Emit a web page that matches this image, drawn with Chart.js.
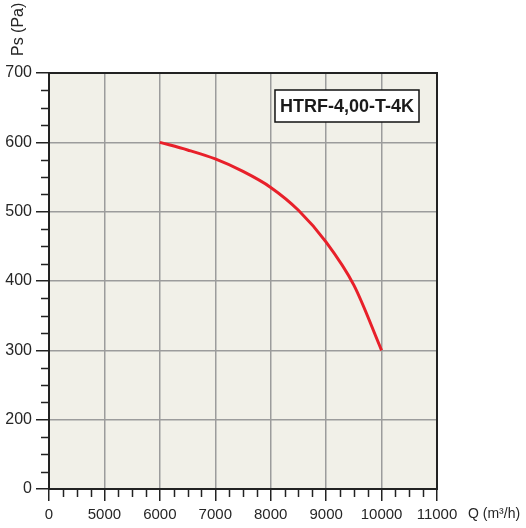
<!DOCTYPE html>
<html><head><meta charset="utf-8">
<script src="https://cdn.jsdelivr.net/npm/chart.js@4/dist/chart.umd.min.js"></script>
<style>html,body{margin:0;padding:0;background:#fff}#wrap{width:526px;height:528px}</style>
</head><body><div id="wrap"><canvas id="c" width="526" height="528"></canvas></div>
<script>
const flowValues = [6000, 6500, 7000, 7500, 8000, 8500, 9000, 9500, 10000];
const pressureValues = [600, 589, 576, 558, 535, 502, 456, 394, 300];
const xRange = [4000, 11000];
const yRange = [100, 700];
const xMajorStep = 1000, xMinorStep = 250;
const yMajorStep = 100, yMinorStep = 25;
const modelLabel = 'HTRF-4,00-T-4K';
const xTitle = 'Q (m³/h)';
const yTitle = 'Ps (Pa)';

const FONT = "'Liberation Sans', Arial, Helvetica, sans-serif";
const GRID = '#9c9c9c';
const AXIS = '#222';
const TEXT = '#262626';

const points = flowValues.map((q, i) => ({ x: q, y: pressureValues[i] }));

const decor = {
  id: 'decor',
  beforeDraw(chart) {
    const { ctx, chartArea: a } = chart;
    ctx.save();
    ctx.fillStyle = '#f1f0e8';
    ctx.fillRect(a.left, a.top, a.right - a.left, a.bottom - a.top);
    ctx.restore();
  },
  afterDraw(chart) {
    const { ctx, chartArea: a } = chart;
    const xs = chart.scales.x, ys = chart.scales.y;
    ctx.save();
    // minor ticks
    ctx.strokeStyle = AXIS; ctx.lineWidth = 1.5;
    ctx.beginPath();
    for (let v = xRange[0]; v <= xRange[1]; v += xMinorStep) {
      if ((v - xRange[0]) % xMajorStep === 0) continue;
      const px = Math.round(xs.getPixelForValue(v)) + 0.5;
      ctx.moveTo(px, a.bottom); ctx.lineTo(px, a.bottom + 8);
    }
    for (let v = yRange[0]; v <= yRange[1]; v += yMinorStep) {
      if ((v - yRange[0]) % yMajorStep === 0) continue;
      const py = Math.round(ys.getPixelForValue(v)) + 0.5;
      ctx.moveTo(a.left, py); ctx.lineTo(a.left - 8, py);
    }
    ctx.stroke();
    // frame
    ctx.strokeStyle = AXIS; ctx.lineWidth = 2;
    ctx.strokeRect(a.left, a.top, a.right - a.left, a.bottom - a.top);
    // model label box
    ctx.font = 'bold 18px ' + FONT;
    const tw = ctx.measureText(modelLabel).width;
    const bx2 = a.right - 18, by1 = a.top + 17, bh = 32;
    const bx1 = bx2 - tw - 10;
    ctx.fillStyle = '#fff';
    ctx.fillRect(bx1, by1, bx2 - bx1, bh);
    ctx.strokeStyle = '#111'; ctx.lineWidth = 1.5;
    ctx.strokeRect(bx1, by1, bx2 - bx1, bh);
    ctx.fillStyle = '#1a1a1a';
    ctx.textAlign = 'center'; ctx.textBaseline = 'middle';
    ctx.fillText(modelLabel, (bx1 + bx2) / 2, by1 + bh / 2 + 1);
    // axis titles
    ctx.font = '14px ' + FONT;
    ctx.fillStyle = TEXT;
    ctx.textAlign = 'left'; ctx.textBaseline = 'middle';
    ctx.fillText(xTitle, a.right + 31, a.bottom + 25);
    ctx.font = '16px ' + FONT;
    ctx.translate(19, 56);
    ctx.rotate(-Math.PI / 2);
    ctx.fillText(yTitle, 0, 0);
    ctx.restore();
  }
};

new Chart(document.getElementById('c'), {
  type: 'line',
  data: {
    datasets: [{
      data: points,
      borderColor: '#e8202a',
      borderWidth: 3,
      pointRadius: 0,
      fill: false,
      cubicInterpolationMode: 'monotone'
    }]
  },
  options: {
    responsive: false,
    devicePixelRatio: 1,
    animation: false,
    layout: { padding: { left: 0, top: 73, right: 89, bottom: 0 } },
    plugins: { legend: { display: false }, tooltip: { enabled: false } },
    scales: {
      x: {
        type: 'linear',
        min: xRange[0], max: xRange[1],
        afterFit(s) { s.height = 39; },
        ticks: {
          stepSize: xMajorStep, autoSkip: false, maxRotation: 0,
          color: TEXT, font: { family: FONT, size: 15 }, padding: 5,
          callback: v => v === xRange[0] ? '0' : String(v)
        },
        grid: {
          color: c => (c.tick && (c.tick.value === xRange[0] || c.tick.value === xRange[1])) ? 'rgba(0,0,0,0)' : GRID,
          lineWidth: 1.5, tickColor: AXIS, tickLength: 12, tickWidth: 1.5
        },
        border: { color: AXIS, width: 2 }
      },
      y: {
        type: 'linear',
        min: yRange[0], max: yRange[1],
        afterFit(s) { s.width = 49; },
        ticks: {
          stepSize: yMajorStep, autoSkip: false,
          color: TEXT, font: { family: FONT, size: 16 }, padding: 4,
          callback: v => v === yRange[0] ? '0' : String(v)
        },
        grid: {
          color: c => (c.tick && (c.tick.value === yRange[0] || c.tick.value === yRange[1])) ? 'rgba(0,0,0,0)' : GRID,
          lineWidth: 1.5, tickColor: AXIS, tickLength: 13, tickWidth: 1.5
        },
        border: { color: AXIS, width: 2 }
      }
    }
  },
  plugins: [decor]
});
</script></body></html>
